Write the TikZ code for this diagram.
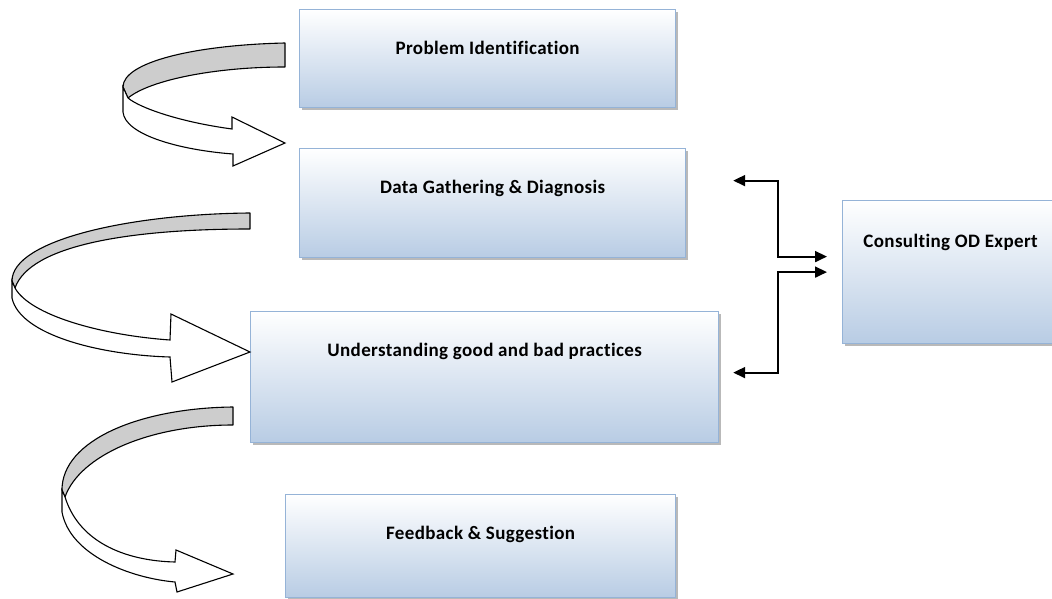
\documentclass[tikz,border=0pt]{standalone}
\usepackage{fontspec}
\setmainfont{Carlito}[Ligatures=NoCommon,LetterSpace=2]
\usetikzlibrary{arrows.meta,shadows}

\definecolor{boxline}{RGB}{149,179,215}
\definecolor{boxfill}{RGB}{184,204,228}
\definecolor{ribbon}{RGB}{205,205,205}

\tikzset{
  stage/.style={draw=boxline,line width=1.2pt,top color=white,bottom color=boxfill,
    drop shadow={shadow xshift=2.5pt,shadow yshift=-2.5pt,fill=black!50,opacity=.55},
    anchor=north west,inner sep=0pt,text height=45pt,
    font=\fontsize{19}{21}\selectfont\bfseries},
  link/.style={line width=1.8pt,{Triangle[length=12pt,width=11pt]}-{Triangle[length=12pt,width=11pt]}},
  ribbonback/.style={draw,fill=ribbon,line width=1.1pt,line join=round},
  ribbonfront/.style={draw,fill=white,line width=1.1pt}
}

\begin{document}
\begin{tikzpicture}[x=1pt,y=-1pt]
\path[use as bounding box] (0,0) rectangle (1052,599);

\node[stage,minimum width=376pt,text depth=53pt] (problem) at (299,9) {Problem Identification};
\node[stage,minimum width=386pt,text depth=64pt] (data) at (299,148) {Data Gathering \& Diagnosis};
\node[stage,minimum width=468pt,text depth=86pt] (practices) at (250,311) {Understanding good and bad practices};
\node[stage,minimum width=390pt,text depth=58pt] (feedback) at (285,494) {Feedback \& Suggestion};
\node[stage,minimum width=216pt,text height=47pt,text depth=96pt] (expert) at (842,200) {Consulting OD Expert};

\coordinate (dgport) at ([xshift=47pt,yshift=22.5pt]data.east);
\coordinate (bpport) at ([xshift=14pt,yshift=4.5pt]practices.east);
\coordinate (odtop) at ([xshift=-15pt,yshift=15.5pt]expert.west);
\coordinate (odbot) at ([xshift=-15pt]expert.west);

\draw[link] (dgport) -| ([xshift=-49pt]odtop) -- (odtop);
\draw[link] (odbot) -- ([xshift=-49pt]odbot) |- (bpport);

\draw[ribbonback] (285,43) .. controls (195,45) and (123,62) .. (123,87) -- (128,98)
  .. controls (150,80) and (215,67) .. (285,67) -- cycle;
\draw[ribbonfront] (123,87) -- (123,112) .. controls (125,135) and (180,150) .. (233,154)
  -- (233,166) -- (285,143) -- (232,117) -- (232,129)
  .. controls (180,122) and (140,108) .. (128,98) -- cycle;

\draw[ribbonback] (250,213) .. controls (130,214) and (12,240) .. (12,281) -- (15,288)
  .. controls (30,245) and (130,229) .. (250,229) -- cycle;
\draw[ribbonfront] (12,281) -- (12,298) .. controls (20,335) and (100,355) .. (170,357)
  -- (172,382) -- (250,352) -- (171,314) -- (170,340)
  .. controls (100,335) and (30,315) .. (15,288) -- cycle;

\draw[ribbonback] (233,407) .. controls (140,408) and (62,440) .. (62,490) -- (65,497)
  .. controls (80,455) and (150,425) .. (233,425) -- cycle;
\draw[ribbonfront] (62,490) -- (62,512) .. controls (70,555) and (130,578) .. (175,582)
  -- (177,592) -- (233,574) -- (176,550) -- (175,562)
  .. controls (130,561) and (80,545) .. (65,497) -- cycle;
\end{tikzpicture}
\end{document}
